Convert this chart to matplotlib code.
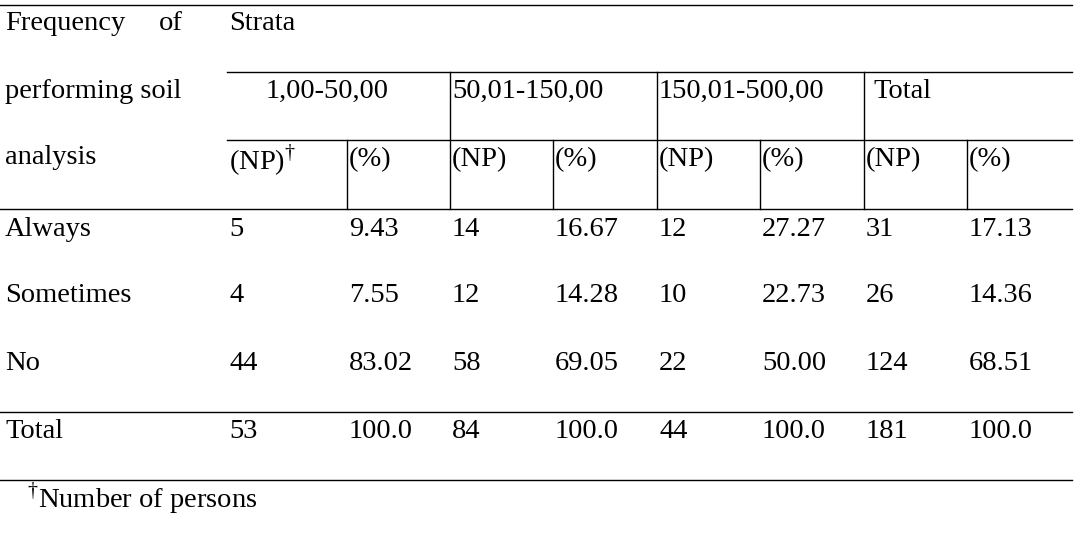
import matplotlib
matplotlib.use("Agg")
import matplotlib.pyplot as plt

ROW_LABELS = ["Always", "Sometimes", "No", "Total"]
NP_VALUES = [[5, 14, 12, 31], [4, 12, 10, 26], [44, 58, 22, 124], [53, 84, 44, 181]]
PCT_VALUES = [["9.43", "16.67", "27.27", "17.13"],
              ["7.55", "14.28", "22.73", "14.36"],
              ["83.02", "69.05", "50.00", "68.51"],
              ["100.0", "100.0", "100.0", "100.0"]]
STRATA = ["1,00-50,00", "50,01-150,00", "150,01-500,00", "Total"]

plt.rcParams["font.family"] = "Liberation Serif"
plt.rcParams["mathtext.fontset"] = "custom"
plt.rcParams["mathtext.rm"] = "Liberation Serif"

fig = plt.figure(figsize=(10.78, 5.46), dpi=100)
ax = fig.add_axes([0, 0, 1, 1])
ax.set_xlim(0, 1078)
ax.set_ylim(546, 0)
ax.axis("off")
fs = 20.5
kw = dict(fontsize=fs, va="center", family="Liberation Serif")

# rules
lw = 1.0
ax.plot([0, 1072], [5, 5], "k", lw=lw)
ax.plot([227, 1072], [72, 72], "k", lw=lw)
ax.plot([227, 1072], [140, 140], "k", lw=lw)
ax.plot([0, 1072], [209, 209], "k", lw=lw)
ax.plot([0, 1072], [412, 412], "k", lw=lw)
ax.plot([0, 1072], [480, 480], "k", lw=lw)
group_x = [450, 657, 864]
sub_x = [347, 553, 760, 967]
for x in group_x:
    ax.plot([x, x], [72, 209], "k", lw=lw)
for x in sub_x:
    ax.plot([x, x], [140, 209], "k", lw=lw)

# header
ax.text(5, 23, "Frequency", **kw)
ax.text(183, 23, "of", ha="right", **kw)
ax.text(5, 91, "performing soil", **kw)
ax.text(5, 158, "analysis", **kw)
ax.text(229, 23, "Strata", **kw)
ax.text(327, 91, STRATA[0], ha="center", **kw)
ax.text(452, 91, STRATA[1], **kw)
ax.text(659, 91, STRATA[2], **kw)
ax.text(873, 91, STRATA[3], **kw)
np_x = [229, 452, 659, 866]
pct_x = [349, 555, 762, 969]
for i, (xn, xp) in enumerate(zip(np_x, pct_x)):
    ax.text(xn, 160, "(NP)$^{\\dagger}$" if i == 0 else "(NP)", **kw)
    ax.text(xp, 160, "(%)", **kw)

# body
row_y = [229, 296, 363, 431]
for r, y in enumerate(row_y):
    ax.text(5, y, ROW_LABELS[r], **kw)
    for c in range(4):
        ax.text(np_x[c], y, str(NP_VALUES[r][c]), **kw)
        ax.text(pct_x[c], y, PCT_VALUES[r][c], **kw)

ax.text(27, 498, "$^{\\dagger}$Number of persons", **kw)

fig.savefig("out.png", dpi=100)
